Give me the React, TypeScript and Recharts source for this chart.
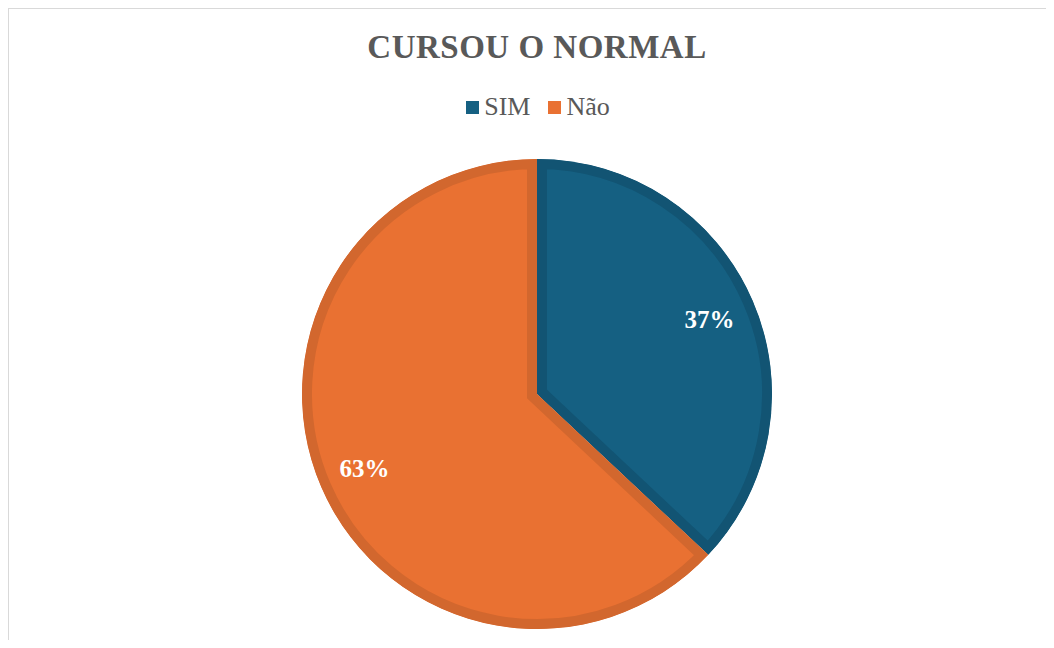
import React from 'react';
import { PieChart, Pie, Cell, Sector } from 'recharts';

const categories = ['SIM', 'Não'];
const shares = [37, 63];
const fills = ['#156082', '#E97132'];
const edges = ['#125473', '#D2672E'];

const data = categories.map((name, i) => ({ name, value: shares[i] }));

const serif = '"Liberation Serif", "Times New Roman", serif';

// slice drawn with an inner border: thick stroke clipped to the slice itself
const InsetSlice = (props: any) => {
  const { cx, cy, innerRadius, outerRadius, startAngle, endAngle, fill, index } = props;
  const geo = { cx, cy, innerRadius, outerRadius, startAngle, endAngle };
  const id = `slice-clip-${index}`;
  return (
    <g>
      <defs>
        <clipPath id={id}>
          <Sector {...geo} />
        </clipPath>
      </defs>
      <Sector {...geo} fill={fill} stroke={edges[index]} strokeWidth={20} clipPath={`url(#${id})`} />
    </g>
  );
};

const renderLabel = (props: any) => {
  const { cx, cy, midAngle, outerRadius, percent } = props;
  const RAD = Math.PI / 180;
  const r = outerRadius * 0.8;
  const x = cx + r * Math.cos(-midAngle * RAD);
  const y = cy + r * Math.sin(-midAngle * RAD);
  return (
    <text x={x} y={y} fill="#ffffff" textAnchor="middle" dominantBaseline="central"
      fontFamily={serif} fontWeight="bold" fontSize={25}>
      {`${Math.round(percent * 100)}%`}
    </text>
  );
};

export default function App() {
  return (
    <div style={{ position: 'relative', width: 1038, height: 631, borderLeft: '1px solid #d9d9d9', borderTop: '1px solid #d9d9d9', overflow: 'hidden', background: '#fff' }}>
      <div style={{ position: 'absolute', top: 20, left: 0, width: 1056, textAlign: 'center', fontFamily: serif, fontWeight: 'bold', fontSize: 33, color: '#595959', letterSpacing: 0.5 }}>
        CURSOU O NORMAL
      </div>
      {/* legenda */}
      <div style={{ position: 'absolute', top: 83, left: 0, width: 1058, display: 'flex', justifyContent: 'center', gap: 18, fontFamily: serif, fontSize: 26, color: '#595959' }}>
        {categories.map((c, i) => (
          <div key={c} style={{ display: 'flex', alignItems: 'center' }}>
            <span style={{ display: 'inline-block', width: 13, height: 13, background: fills[i], marginRight: 5 }} />
            <span>{c}</span>
          </div>
        ))}
      </div>
      <PieChart width={1056} height={660} margin={{ top: 0, right: 0, bottom: 0, left: 0 }}>
        <Pie
          data={data}
          dataKey="value"
          nameKey="name"
          cx={528}
          cy={385}
          outerRadius={235}
          startAngle={90}
          endAngle={-270}
          stroke="none"
          shape={InsetSlice}
          label={renderLabel}
          labelLine={false}
          isAnimationActive={false}
        >
          {data.map((d, i) => (
            <Cell key={d.name} fill={fills[i]} />
          ))}
        </Pie>
      </PieChart>
    </div>
  );
}
